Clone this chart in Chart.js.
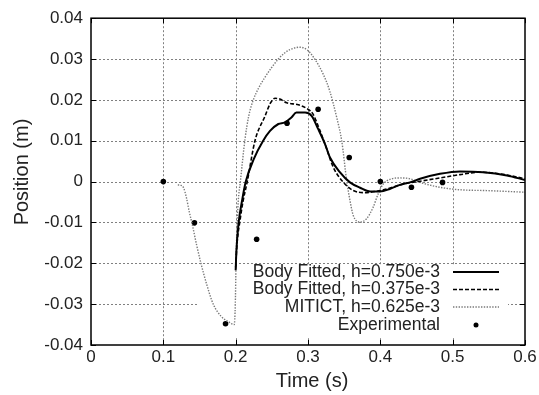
<!DOCTYPE html>
<html><head><meta charset="utf-8">
<script src="https://cdn.jsdelivr.net/npm/chart.js@4.4.1/dist/chart.umd.min.js"></script>
<style>html,body{margin:0;padding:0;background:#fff}canvas{display:block}</style>
</head><body>
<canvas id="c" width="539" height="395"></canvas>
<script>
const xTickValues=[0,0.1,0.2,0.3,0.4,0.5,0.6];
const xTickLabels=['0','0.1','0.2','0.3','0.4','0.5','0.6'];
const yTickValues=[-0.04,-0.03,-0.02,-0.01,0,0.01,0.02,0.03,0.04];
const yTickLabels=['-0.04','-0.03','-0.02','-0.01','0','0.01','0.02','0.03','0.04'];
const seriesNames=['Body Fitted, h=0.750e-3','Body Fitted, h=0.375e-3','MITICT, h=0.625e-3','Experimental'];

const bf750T=[0.2000,0.2010,0.2040,0.2090,0.2140,0.2250,0.2380,0.2475,0.2590,0.2680,0.2770,0.2840,0.2960,0.3050,0.3140,0.3235,0.3304,0.3440,0.3580,0.3720,0.3857,0.3995,0.4130,0.4270,0.4410,0.4550,0.4825,0.5100,0.5420,0.5750,0.6000];
const bf750V=[-0.0217,-0.0170,-0.0102,-0.0045,0.0000,0.0055,0.0100,0.0124,0.0141,0.0145,0.0157,0.0169,0.0169,0.0161,0.0129,0.0092,0.0059,0.0023,-0.0002,-0.0015,-0.0024,-0.0024,-0.0018,-0.0008,-0.0002,0.0007,0.0019,0.0025,0.0023,0.0015,0.0004];

const bf375T=[0.2000,0.2020,0.2060,0.2100,0.2160,0.2267,0.2405,0.2480,0.2545,0.2610,0.2705,0.2866,0.3000,0.3070,0.3143,0.3235,0.3350,0.3490,0.3626,0.3790,0.3995,0.4090,0.4320,0.4550,0.4825,0.5100,0.5380,0.5655,0.6000];
const bf375V=[-0.0210,-0.0150,-0.0095,-0.0050,0.0000,0.0100,0.0160,0.0192,0.0204,0.0202,0.0193,0.0188,0.0177,0.0165,0.0135,0.0092,0.0035,-0.0002,-0.0022,-0.0027,-0.0022,-0.0018,-0.0006,0.0001,0.0009,0.0017,0.0023,0.0019,0.0007];

const mitT=[0.1200,0.1240,0.1280,0.1320,0.1360,0.1400,0.1460,0.1520,0.1600,0.1690,0.1800,0.1900,0.1980,0.1995,0.2005,0.2015,0.2035,0.2065,0.2130,0.2180,0.2240,0.2320,0.2400,0.2500,0.2590,0.2670,0.2750,0.2890,0.2990,0.3074,0.3210,0.3300,0.3397,0.3466,0.3535,0.3580,0.3626,0.3720,0.3810,0.3900,0.3970,0.4040,0.4160,0.4270,0.4410,0.4550,0.4825,0.5100,0.5470,0.6000];
const mitV=[-0.0008,-0.0009,-0.0015,-0.0040,-0.0075,-0.0105,-0.0155,-0.0200,-0.0252,-0.0300,-0.0330,-0.0343,-0.0350,-0.0300,-0.0200,-0.0130,-0.0050,0.0000,0.0105,0.0160,0.0198,0.0230,0.0254,0.0280,0.0300,0.0314,0.0323,0.0329,0.0322,0.0305,0.0263,0.0222,0.0157,0.0100,0.0002,-0.0046,-0.0083,-0.0099,-0.0091,-0.0063,-0.0030,-0.0006,0.0007,0.0009,0.0007,-0.0002,-0.0014,-0.0020,-0.0022,-0.0026];

const expT=[0.100,0.143,0.186,0.229,0.271,0.314,0.357,0.400,0.443,0.486];
const expV=[0.0000,-0.0101,-0.0348,-0.0141,0.0143,0.0177,0.0059,0.0000,-0.0014,-0.0002];

const pts=(t,v)=>t.map((x,i)=>({x:x,y:v[i]}));
const FONT='"Liberation Sans", Arial, Helvetica, sans-serif';

const styles=[
  {color:'#000',width:2,dash:[]},
  {color:'#000',width:1.6,dash:[4,2]},
  {color:'#7a7a7a',width:1.4,dash:[1.4,1.4]}
];

const framePlugin={
  id:'frame',
  beforeDatasetsDraw(chart){
    const {ctx,chartArea:a,scales:{x,y}}=chart;
    ctx.save();
    ctx.strokeStyle='#808080';ctx.lineWidth=1;ctx.setLineDash([2,2]);
    xTickValues.forEach(v=>{ if(v<=0||v>=0.6) return; const px=Math.round(x.getPixelForValue(v))+0.5;
      ctx.beginPath();ctx.moveTo(px,a.top);ctx.lineTo(px,a.bottom);ctx.stroke();});
    yTickValues.forEach(v=>{ if(v<=-0.04||v>=0.04) return; const py=Math.round(y.getPixelForValue(v))+0.5;
      ctx.beginPath();ctx.moveTo(a.left,py);ctx.lineTo(a.right,py);ctx.stroke();});
    ctx.setLineDash([]);
    ctx.fillStyle='#fff';
    ctx.fillRect(197,265,311,72);
    ctx.restore();
  },
  afterDatasetsDraw(chart){
    const {ctx,chartArea:a,scales:{x,y}}=chart;
    ctx.save();
    ctx.strokeStyle='#000';ctx.lineWidth=1.5;ctx.setLineDash([]);
    ctx.strokeRect(a.left,a.top,a.right-a.left,a.bottom-a.top);
    ctx.lineWidth=1;
    xTickValues.forEach(v=>{ const px=Math.round(x.getPixelForValue(v))+0.5;
      ctx.beginPath();ctx.moveTo(px,a.bottom);ctx.lineTo(px,a.bottom-5);ctx.moveTo(px,a.top);ctx.lineTo(px,a.top+5);ctx.stroke();});
    yTickValues.forEach(v=>{ const py=Math.round(y.getPixelForValue(v))+0.5;
      ctx.beginPath();ctx.moveTo(a.left,py);ctx.lineTo(a.left+5,py);ctx.moveTo(a.right,py);ctx.lineTo(a.right-5,py);ctx.stroke();});
    // legend
    ctx.font='17.5px '+FONT;ctx.fillStyle='#222';ctx.textAlign='right';ctx.textBaseline='middle';
    const rows=[272,289.5,307,325];
    seriesNames.forEach((n,i)=>{
      ctx.fillText(n,440,rows[i]);
      if(i<3){const s=styles[i];ctx.strokeStyle=s.color;ctx.lineWidth=s.width;ctx.setLineDash(s.dash);
        ctx.beginPath();ctx.moveTo(453,rows[i]);ctx.lineTo(499,rows[i]);ctx.stroke();ctx.setLineDash([]);}
      else{ctx.fillStyle='#000';ctx.beginPath();ctx.arc(476,rows[i],2.5,0,Math.PI*2);ctx.fill();ctx.fillStyle='#222';}
    });
    // axis titles
    ctx.font='20px '+FONT;ctx.fillStyle='#222';ctx.textAlign='center';ctx.textBaseline='middle';
    ctx.fillText('Time (s)',(a.left+a.right)/2+4,381);
    ctx.translate(22,172);ctx.rotate(-Math.PI/2);ctx.fillText('Position (m)',0,0);
    ctx.restore();
  }
};

new Chart(document.getElementById('c'),{
  type:'line',
  data:{datasets:[
    {label:seriesNames[0],data:pts(bf750T,bf750V),borderColor:styles[0].color,borderWidth:styles[0].width,borderDash:styles[0].dash,pointRadius:0,fill:false,cubicInterpolationMode:'monotone'},
    {label:seriesNames[1],data:pts(bf375T,bf375V),borderColor:styles[1].color,borderWidth:styles[1].width,borderDash:styles[1].dash,pointRadius:0,fill:false,cubicInterpolationMode:'monotone'},
    {label:seriesNames[2],data:pts(mitT,mitV),borderColor:styles[2].color,borderWidth:styles[2].width,borderDash:styles[2].dash,pointRadius:0,fill:false,cubicInterpolationMode:'monotone'},
    {label:seriesNames[3],data:pts(expT,expV),showLine:false,pointRadius:2.8,pointBackgroundColor:'#000',pointBorderWidth:0,borderColor:'#000'}
  ]},
  options:{
    responsive:false,animation:false,devicePixelRatio:1,
    layout:{padding:{top:17,right:14,left:0,bottom:0}},
    plugins:{legend:{display:false},tooltip:{enabled:false}},
    scales:{
      x:{type:'linear',min:0,max:0.6,
        afterBuildTicks:s=>{s.ticks=xTickValues.map(v=>({value:v}));},
        afterFit:s=>{s.height=50;},
        grid:{display:false,drawTicks:false},border:{display:false},
        ticks:{padding:2,maxRotation:0,autoSkip:false,color:'#222',font:{family:FONT,size:17},callback:(v,i)=>xTickLabels[i]}},
      y:{type:'linear',min:-0.04,max:0.04,
        afterBuildTicks:s=>{s.ticks=yTickValues.map(v=>({value:v}));},
        afterFit:s=>{s.width=91;},
        grid:{display:false,drawTicks:false},border:{display:false},
        ticks:{padding:8,autoSkip:false,color:'#222',font:{family:FONT,size:17},callback:(v,i)=>yTickLabels[i]}}
    }
  },
  plugins:[framePlugin]
});
</script>
</body></html>
